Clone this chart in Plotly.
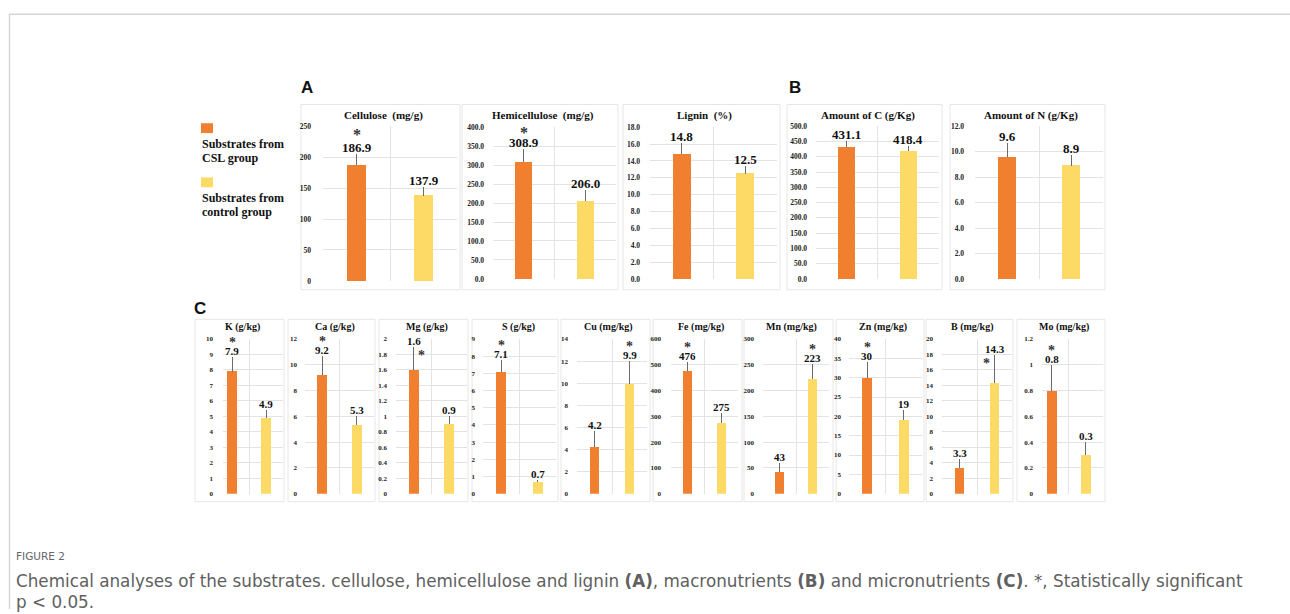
import plotly.graph_objects as go

W, H = 1290, 614

# ---------------- data ----------------
top_titles = ["Cellulose\u00a0 (mg/g)", "Hemicellulose\u00a0 (mg/g)", "Lignin\u00a0 (%)",
              "Amount of C (g/Kg)", "Amount of N (g/Kg)"]
top_csl = [186.9, 308.9, 14.8, 431.1, 9.6]
top_ctrl = [137.9, 206.0, 12.5, 418.4, 8.9]
top_csl_err = [17.7, 33, 1.3, 20.5, 1.1]
top_ctrl_err = [14, 28, 0.9, 18, 0.8]
top_csl_lbl = ["186.9", "308.9", "14.8", "431.1", "9.6"]
top_ctrl_lbl = ["137.9", "206.0", "12.5", "418.4", "8.9"]
top_sig = ["CSL", "CSL", None, None, None]
top_ymax = [250, 400, 18, 500, 12]
top_dtick = [50, 50, 2, 50, 2]
top_fmt = ["d", ".1f", ".1f", ".1f", ".1f"]

bot_titles = ["K (g/kg)", "Ca (g/kg)", "Mg (g/kg)", "S (g/kg)", "Cu (mg/kg)",
              "Fe (mg/kg)", "Mn (mg/kg)", "Zn (mg/kg)", "B (mg/kg)", "Mo (mg/kg)"]
bot_csl = [7.9, 9.2, 1.6, 7.1, 4.2, 476, 43, 30, 3.3, 0.8]
bot_ctrl = [4.9, 5.3, 0.9, 0.7, 9.9, 275, 223, 19, 14.3, 0.3]
bot_csl_err = [0.93, 1.5, 0.3, 0.7, 1.5, 35, 16, 4, 1.2, 0.2]
bot_ctrl_err = [0.48, 0.7, 0.1, 0.12, 2.15, 38, 28, 2.7, 3.6, 0.1]
bot_csl_lbl = ["7.9", "9.2", "1.6", "7.1", "4.2", "476", "43", "30", "3.3", "0.8"]
bot_ctrl_lbl = ["4.9", "5.3", "0.9", "0.7", "9.9", "275", "223", "19", "14.3", "0.3"]
bot_sig = ["CSL", "CSL", "CSL", "CSL", "CTRL", "CSL", "CTRL", "CSL", "CTRL", "CSL"]
bot_ymax = [10, 12, 2, 9, 14, 600, 300, 40, 20, 1.2]
bot_dtick = [1, 2, 0.2, 1, 2, 100, 50, 5, 2, 0.2]

groups = ["Substrates from CSL group", "Substrates from control group"]

ORANGE = "#F07F2F"
YELLOW = "#FDDA66"
SERIF = "Liberation Serif, Times New Roman, serif"
SANS = "Liberation Sans, Arial, sans-serif"

# ---------------- layout geometry (pixels) ----------------
top_plot_px = [(323, 457, 124, 281), (493, 616, 125, 279), (650, 777, 125, 279),
               (816, 939, 124, 279), (975, 1103, 124, 279)]
top_box_px = [(301, 460), (462, 618), (623, 780), (787, 942), (950, 1105)]
top_standoff = [11, 8, 9, 8, 10]
top_ast_shift = [9, 6, 9, 9, 9]
bot_plot_px = [(223, 283), (305, 374), (396, 467), (483, 556), (577, 647),
               (671, 738), (763, 829), (849, 922), (942, 1012), (1042, 1103)]
bot_box_px = [(195, 284), (288, 375), (379, 468), (472, 558), (561, 650),
              (653, 742), (744, 833), (836, 924), (926, 1013), (1017, 1105)]
bot_xmin = [-0.27, -0.5, -0.5, -0.5, -0.5, -0.5, -0.5, -0.5, -0.5, -0.29]
bot_standoff = [9, 7, 8, 7, 8, 9, 8, 7, 8, 8]
bot_y = (340, 497)
# asterisk placement: None = above the label, number = beside the error bar (xshift px)
bot_ast = [None, None, 8, None, None, None, None, None, -8, None]


def fx(px):
    return px / W


def fy(py):
    return 1 - py / H


fig = go.Figure()
shapes = []
annotations = []
layout_axes = {}

panels = []
for i in range(5):
    x0, x1, y0, y1 = top_plot_px[i]
    panels.append(dict(i=i, x=(x0, x1), y=(y0, y1), xmin=-0.5,
                       csl=top_csl[i], ctrl=top_ctrl[i], ce=top_csl_err[i], te=top_ctrl_err[i],
                       cl=top_csl_lbl[i], tl=top_ctrl_lbl[i], sig=top_sig[i],
                       ymax=top_ymax[i], dtick=top_dtick[i], fmt=top_fmt[i],
                       title=top_titles[i], box=top_box_px[i], boxy=(102, 290), ty=113,
                       lsize=13, tsize=11, ticksize=7.5, standoff=top_standoff[i], ast=None,
                       ashift=top_ast_shift[i], lshift=-3))
for i in range(10):
    x0, x1 = bot_plot_px[i]
    panels.append(dict(i=i, x=(x0, x1), y=bot_y, xmin=bot_xmin[i],
                       csl=bot_csl[i], ctrl=bot_ctrl[i], ce=bot_csl_err[i], te=bot_ctrl_err[i],
                       cl=bot_csl_lbl[i], tl=bot_ctrl_lbl[i], sig=bot_sig[i],
                       ymax=bot_ymax[i], dtick=bot_dtick[i], fmt=None,
                       title=bot_titles[i], box=bot_box_px[i], boxy=(320, 505), ty=328,
                       lsize=11, tsize=10, ticksize=7, standoff=bot_standoff[i], ast=bot_ast[i],
                       ashift=5, lshift=-2))

for k, p in enumerate(panels):
    n = "" if k == 0 else str(k + 1)
    xa, ya = "x" + n, "y" + n
    bx0, bx1 = p["box"]
    by0, by1 = p["boxy"]
    shapes.append(dict(type="rect", xref="paper", yref="paper", x0=fx(bx0), x1=fx(bx1),
                       y0=fy(by1), y1=fy(by0), line=dict(color="#E6E6E6", width=1),
                       fillcolor="white", layer="below"))
    fig.add_trace(go.Bar(x=[0], y=[p["csl"]], width=0.28, marker=dict(color=ORANGE, line=dict(width=0)),
                         error_y=dict(type="data", array=[p["ce"]], arrayminus=[0], symmetric=False,
                                      color="#6b6b6b", thickness=1, width=0),
                         xaxis=xa, yaxis=ya, showlegend=False, name=groups[0]))
    fig.add_trace(go.Bar(x=[1], y=[p["ctrl"]], width=0.28, marker=dict(color=YELLOW, line=dict(width=0)),
                         error_y=dict(type="data", array=[p["te"]], arrayminus=[0], symmetric=False,
                                      color="#6b6b6b", thickness=1, width=0),
                         xaxis=xa, yaxis=ya, showlegend=False, name=groups[1]))
    tickvals = []
    t = 0.0
    while t <= p["ymax"] + 1e-9:
        tickvals.append(round(t, 6))
        t += p["dtick"]
    if p["fmt"] == "d":
        ticktext = [str(int(v)) for v in tickvals]
    elif p["fmt"] == ".1f":
        ticktext = [f"{v:.1f}" for v in tickvals]
    else:
        ticktext = [f"{v:g}" for v in tickvals]
    ticktext = ["<b>" + s + "</b>" for s in ticktext]
    layout_axes["xaxis" + n] = dict(domain=[fx(p["x"][0]), fx(p["x"][1])], anchor=ya,
                                    range=[p["xmin"], 1.5], tickvals=[0.5, 1.5],
                                    showticklabels=False, showgrid=True, gridcolor="#E3E3E3",
                                    gridwidth=1, zeroline=False, ticks="", fixedrange=True)
    layout_axes["yaxis" + n] = dict(domain=[fy(p["y"][1]), fy(p["y"][0])], anchor=xa,
                                    range=[0, p["ymax"]], tickvals=tickvals, ticktext=ticktext,
                                    showgrid=True, gridcolor="#E3E3E3", gridwidth=1,
                                    zeroline=False, ticks="", ticklabelstandoff=p["standoff"],
                                    tickfont=dict(family=SERIF, size=p["ticksize"], color="#222"),
                                    fixedrange=True)
    annotations.append(dict(xref="paper", yref="paper", x=fx((bx0 + bx1) / 2 + 3), y=fy(p["ty"]),
                            text="<b>" + p["title"] + "</b>", showarrow=False,
                            font=dict(family=SERIF, size=p["tsize"], color="#111"),
                            xanchor="center", yanchor="middle"))
    for xv, val, err, lbl, grp in [(0, p["csl"], p["ce"], p["cl"], "CSL"),
                                   (1, p["ctrl"], p["te"], p["tl"], "CTRL")]:
        annotations.append(dict(xref=xa, yref=ya, x=xv, y=val + err, text="<b>" + lbl + "</b>",
                                showarrow=False, font=dict(family=SERIF, size=p["lsize"], color="#111"),
                                xanchor="center", yanchor="bottom", yshift=p["lshift"]))
        if p["sig"] == grp:
            asz = p["lsize"] + 3
            if p["ast"] is None:
                annotations.append(dict(xref=xa, yref=ya, x=xv, y=val + err, text="<b>*</b>",
                                        showarrow=False,
                                        font=dict(family=SERIF, size=asz, color="#333"),
                                        xanchor="center", yanchor="bottom",
                                        yshift=p["ashift"]))
            else:
                annotations.append(dict(xref=xa, yref=ya, x=xv, y=val + err, text="<b>*</b>",
                                        showarrow=False,
                                        font=dict(family=SERIF, size=asz, color="#333"),
                                        xanchor="center", yanchor="top",
                                        xshift=p["ast"], yshift=1))

# legend
for sq_y, col, lines in [(121, ORANGE, ["Substrates from", "CSL group"]),
                         (176, YELLOW, ["Substrates from", "control group"])]:
    shapes.append(dict(type="rect", xref="paper", yref="paper", x0=fx(201), x1=fx(213),
                       y0=fy(sq_y + 10), y1=fy(sq_y), fillcolor=col, line=dict(width=0)))
    for j, ln in enumerate(lines):
        annotations.append(dict(xref="paper", yref="paper", x=fx(200), y=fy(sq_y + 21 + 14 * j),
                                text="<b>" + ln + "</b>", showarrow=False, xanchor="left",
                                yanchor="middle", font=dict(family=SERIF, size=12, color="#111")))

# panel letters
for letter, lx, ly in [("A", 307, 85), ("B", 795, 85), ("C", 200, 309)]:
    annotations.append(dict(xref="paper", yref="paper", x=fx(lx), y=fy(ly), text="<b>" + letter + "</b>",
                            showarrow=False, xanchor="center", yanchor="middle",
                            font=dict(family=SANS, size=17, color="#111")))

# caption
CAP = "DejaVu Sans, Verdana, sans-serif"
annotations.append(dict(xref="paper", yref="paper", x=fx(14), y=fy(560), text="FIGURE 2",
                        showarrow=False, xanchor="left", yanchor="middle",
                        font=dict(family=CAP, size=10.5, color="#666")))
annotations.append(dict(xref="paper", yref="paper", x=fx(14), y=fy(586),
                        text="Chemical analyses of the substrates. cellulose, hemicellulose and lignin <b>(A)</b>, "
                             "macronutrients <b>(B)</b> and micronutrients <b>(C)</b>. *, Statistically significant",
                        showarrow=False, xanchor="left", yanchor="middle",
                        font=dict(family=CAP, size=16.8, color="#606060")))
annotations.append(dict(xref="paper", yref="paper", x=fx(14), y=fy(606.5), text="p &lt; 0.05.",
                        showarrow=False, xanchor="left", yanchor="middle",
                        font=dict(family=CAP, size=16.8, color="#606060")))

# outer frame lines
shapes.append(dict(type="line", xref="paper", yref="paper", x0=fx(9), x1=1, y0=fy(10.5), y1=fy(10.5),
                   line=dict(color="#D6D6D6", width=1.5)))
shapes.append(dict(type="line", xref="paper", yref="paper", x0=fx(9.5), x1=fx(9.5), y0=0, y1=fy(10.5),
                   line=dict(color="#D6D6D6", width=1.5)))

fig.update_layout(autosize=True, margin=dict(l=0, r=0, t=0, b=0, pad=0),
                  paper_bgcolor="white", plot_bgcolor="#F3F3F3", bargap=0,
                  shapes=shapes, annotations=annotations, showlegend=False, **layout_axes)

fig.write_html("out.html", default_width="100vw", default_height="100vh",
               config={"displayModeBar": False},
               post_script="document.body.style.margin='0';document.body.style.overflow='hidden';")
